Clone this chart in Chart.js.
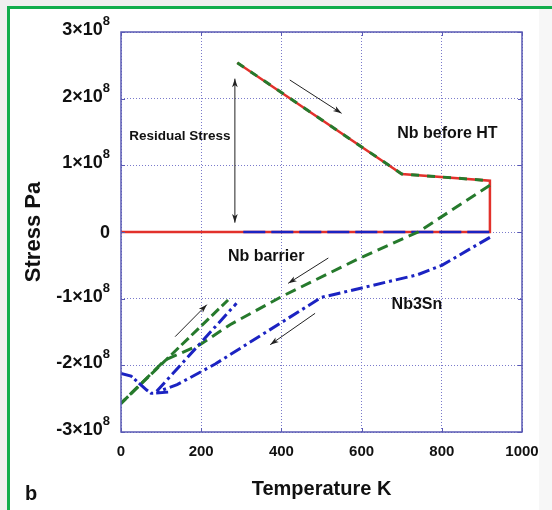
<!DOCTYPE html>
<html>
<head>
<meta charset="utf-8">
<script src="https://cdn.jsdelivr.net/npm/chart.js@4.4.0/dist/chart.umd.min.js"></script>
<style>
html, body { margin: 0; padding: 0; background: #fff; }
#wrap { width: 552px; height: 510px; position: relative; }
</style>
</head>
<body>
<div id="wrap"><canvas id="myChart"></canvas></div>
<script>
// temperature in K, stress in Pa
const nbBeforeT = [0, 920, 920, 700, 290];
const nbBeforeS = [0, 0, 0.77e8, 0.87e8, 2.54e8];

const nbBarrierTopT = [290, 700, 920];
const nbBarrierTopS = [2.54e8, 0.87e8, 0.77e8];
const nbBarrierCoolT = [920, 741, 596, 400, 272, 197, 110, 0];
const nbBarrierCoolS = [0.70e8, 0, -0.39e8, -0.97e8, -1.39e8, -1.69e8, -1.92e8, -2.57e8];
const nbBarrierHeatT = [0, 267];
const nbBarrierHeatS = [-2.57e8, -1.02e8];

const nb3SnZeroT = [305, 920];
const nb3SnZeroS = [0, 0];
const nb3SnStartT = [0, 25, 64, 75, 122];
const nb3SnStartS = [-2.12e8, -2.16e8, -2.37e8, -2.42e8, -2.40e8];
const nb3SnHeatT = [89, 288];
const nb3SnHeatS = [-2.39e8, -1.07e8];
const nb3SnCoolT = [920, 800, 740, 600, 500, 410, 235, 140, 90];
const nb3SnCoolS = [-0.08e8, -0.50e8, -0.64e8, -0.84e8, -0.98e8, -1.32e8, -1.98e8, -2.29e8, -2.40e8];

const xTicks = [0, 200, 400, 600, 800, 1000];
const yTicks = [-3e8, -2e8, -1e8, 0, 1e8, 2e8, 3e8];

// annotations (data units)
const arrows = [
    {from: [284, 2.30e8], to: [284, 0.14e8], both: true},
    {from: [421, 2.28e8], to: [550, 1.78e8]},
    {from: [517, -0.39e8], to: [417, -0.77e8]},
    {from: [135, -1.57e8], to: [214, -1.09e8]},
    {from: [484, -1.22e8], to: [372, -1.69e8]}
];
const notes = [
    {text: 'Residual Stress', x: 147, y: 1.44e8, size: 13.5},
    {text: 'Nb before HT', x: 814, y: 1.48e8, size: 16},
    {text: 'Nb barrier', x: 362, y: -0.37e8, size: 16},
    {text: 'Nb3Sn', x: 738, y: -1.09e8, size: 16}
];

const RED = '#e2312b';
const GREEN = '#267a2c';
const BLUE = '#1b23c2';
const FONT = "'Liberation Sans', Arial, sans-serif";

function pts(xs, ys) {
    return xs.map((x, i) => ({x: x, y: ys[i]}));
}

function line(data, color, width, dash, order) {
    return {
        data: data,
        borderColor: color,
        borderWidth: width,
        borderDash: dash,
        pointRadius: 0,
        fill: false,
        tension: 0,
        order: order
    };
}

function head(ctx, x1, y1, x2, y2) {
    const ang = Math.atan2(y2 - y1, x2 - x1);
    const s = 9;
    ctx.beginPath();
    ctx.moveTo(x2, y2);
    ctx.lineTo(x2 - s * Math.cos(ang - 0.32), y2 - s * Math.sin(ang - 0.32));
    ctx.lineTo(x2 - s * 0.7 * Math.cos(ang), y2 - s * 0.7 * Math.sin(ang));
    ctx.lineTo(x2 - s * Math.cos(ang + 0.32), y2 - s * Math.sin(ang + 0.32));
    ctx.closePath();
    ctx.fill();
}

const pagePlugin = {
    id: 'page',
    beforeDraw(chart) {
        const ctx = chart.ctx;
        ctx.save();
        ctx.fillStyle = '#efefef';
        ctx.fillRect(0, 0, 552, 510);
        ctx.fillStyle = '#ffffff';
        ctx.fillRect(9, 9, 530, 501);
        ctx.fillStyle = '#f7f7f7';
        ctx.fillRect(539, 9, 13, 501);
        ctx.fillStyle = '#12ad4c';
        ctx.fillRect(7, 6, 545, 3);
        ctx.fillRect(7, 6, 3, 504);
        ctx.restore();
    },
    afterDraw(chart) {
        const ctx = chart.ctx;
        const a = chart.chartArea;
        const sx = chart.scales.x, sy = chart.scales.y;
        ctx.save();
        // frame and inner ticks
        ctx.strokeStyle = '#5a5ab4';
        ctx.lineWidth = 1.5;
        ctx.strokeRect(a.left, a.top, a.right - a.left, a.bottom - a.top);
        ctx.lineWidth = 1;
        ctx.beginPath();
        xTicks.forEach(v => {
            const px = Math.round(sx.getPixelForValue(v)) + 0.5;
            ctx.moveTo(px, a.bottom); ctx.lineTo(px, a.bottom - 4);
            ctx.moveTo(px, a.top); ctx.lineTo(px, a.top + 4);
        });
        yTicks.forEach(v => {
            const py = Math.round(sy.getPixelForValue(v)) + 0.5;
            ctx.moveTo(a.left, py); ctx.lineTo(a.left + 4, py);
            ctx.moveTo(a.right, py); ctx.lineTo(a.right - 4, py);
        });
        ctx.stroke();

        // y tick labels with a real superscript exponent
        ctx.fillStyle = '#111';
        ctx.textBaseline = 'alphabetic';
        ctx.textAlign = 'right';
        sy.ticks.forEach(t => {
            const py = sy.getPixelForValue(t.value);
            const n = Math.round(t.value / 1e8);
            if (n === 0) {
                ctx.font = 'bold 18px ' + FONT;
                ctx.fillText('0', 110, py + 6);
            } else {
                ctx.font = 'bold 13px ' + FONT;
                ctx.fillText('8', 110, py - 7);
                const w = ctx.measureText('8').width;
                ctx.font = 'bold 18px ' + FONT;
                ctx.fillText(n + '×10', 110 - w, py + 3);
            }
        });

        // arrows
        ctx.strokeStyle = '#222';
        ctx.fillStyle = '#222';
        ctx.lineWidth = 1;
        arrows.forEach(ar => {
            const x1 = sx.getPixelForValue(ar.from[0]), y1 = sy.getPixelForValue(ar.from[1]);
            const x2 = sx.getPixelForValue(ar.to[0]), y2 = sy.getPixelForValue(ar.to[1]);
            ctx.beginPath();
            ctx.moveTo(x1, y1);
            ctx.lineTo(x2, y2);
            ctx.stroke();
            head(ctx, x1, y1, x2, y2);
            if (ar.both) head(ctx, x2, y2, x1, y1);
        });

        // labels
        ctx.fillStyle = '#111';
        ctx.textAlign = 'center';
        ctx.textBaseline = 'middle';
        notes.forEach(n => {
            ctx.font = 'bold ' + n.size + 'px ' + FONT;
            ctx.fillText(n.text, sx.getPixelForValue(n.x), sy.getPixelForValue(n.y));
        });
        ctx.font = 'bold 20px ' + FONT;
        ctx.fillText('b', 31, 494);
        ctx.restore();
    }
};

const ctx = document.getElementById('myChart');
new Chart(ctx, {
    type: 'line',
    data: {
        datasets: [
            line(pts(nbBeforeT, nbBeforeS), RED, 2.5, [], 10),
            line(pts(nb3SnZeroT, nb3SnZeroS), BLUE, 2.5, [22, 6], 5),
            line(pts(nbBarrierTopT, nbBarrierTopS), GREEN, 3, [8, 8], 4),
            line(pts(nbBarrierCoolT, nbBarrierCoolS), GREEN, 3, [11, 6], 3),
            line(pts(nbBarrierHeatT, nbBarrierHeatS), GREEN, 3, [10, 4], 3),
            line(pts(nb3SnStartT, nb3SnStartS), BLUE, 3, [12, 3, 3, 3], 2),
            line(pts(nb3SnHeatT, nb3SnHeatS), BLUE, 3, [12, 4, 3, 4], 2),
            line(pts(nb3SnCoolT, nb3SnCoolS), BLUE, 3, [12, 4, 3, 4], 2)
        ]
    },
    options: {
        responsive: true,
        maintainAspectRatio: false,
        animation: false,
        layout: {padding: {top: 32, right: 30, left: 0, bottom: 0}},
        plugins: {legend: {display: false}, tooltip: {enabled: false}},
        scales: {
            x: {
                type: 'linear',
                min: 0,
                max: 1000,
                afterFit(scale) { scale.height = 78; },
                ticks: {
                    stepSize: 200,
                    padding: 11,
                    color: '#111',
                    font: {family: FONT, size: 15, weight: 'bold'},
                    callback: v => String(v)
                },
                grid: {color: '#7a7acb', lineWidth: 1, drawTicks: false},
                border: {display: false, dash: [1, 2]},
                title: {
                    display: true,
                    text: 'Temperature K',
                    color: '#111',
                    font: {family: FONT, size: 20, weight: 'bold'},
                    padding: {top: 0, bottom: 9}
                }
            },
            y: {
                type: 'linear',
                min: -3e8,
                max: 3e8,
                afterFit(scale) { scale.width = 121; },
                ticks: {
                    stepSize: 1e8,
                    padding: 11,
                    color: 'rgba(0,0,0,0)',
                    font: {family: FONT, size: 18, weight: 'bold'},
                    callback: function (v) {
                        const n = Math.round(v / 1e8);
                        return n === 0 ? '0' : n + '×10⁸';
                    }
                },
                grid: {color: '#7a7acb', lineWidth: 1, drawTicks: false},
                border: {display: false, dash: [1, 2]},
                title: {
                    display: true,
                    text: 'Stress Pa',
                    color: '#111',
                    font: {family: FONT, size: 22, weight: 'bold'},
                    padding: {top: 21, bottom: 0}
                }
            }
        }
    },
    plugins: [pagePlugin]
});
</script>
</body>
</html>
